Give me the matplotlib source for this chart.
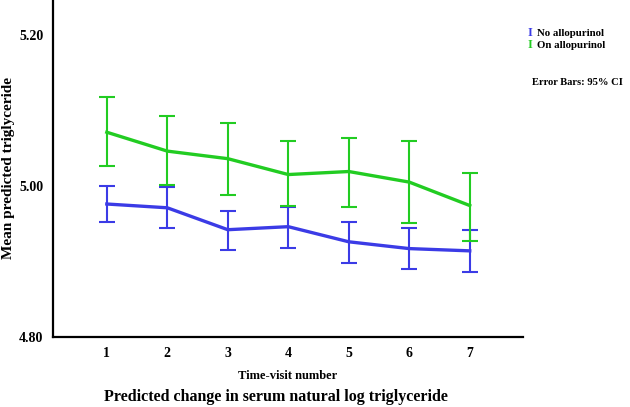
import numpy as np
import matplotlib
matplotlib.use("Agg")
import matplotlib.pyplot as plt

# time-visit numbers
visits = [1, 2, 3, 4, 5, 6, 7]

# No allopurinol: mean and 95% CI bounds
no_mean = [4.976, 4.971, 4.942, 4.946, 4.926, 4.917, 4.914]
no_low  = [4.952, 4.944, 4.915, 4.918, 4.898, 4.890, 4.886]
no_high = [5.000, 4.999, 4.967, 4.972, 4.952, 4.944, 4.942]

# On allopurinol
on_mean = [5.071, 5.046, 5.036, 5.015, 5.019, 5.005, 4.974]
on_low  = [5.026, 5.001, 4.988, 4.973, 4.972, 4.951, 4.927]
on_high = [5.117, 5.093, 5.083, 5.060, 5.064, 5.060, 5.017]

BLUE = "#3b3be6"
GREEN = "#22cc22"

plt.rcParams['font.family'] = ['Liberation Serif', 'DejaVu Serif']
plt.rcParams['font.weight'] = 'bold'

fig = plt.figure(figsize=(6.3, 4.07), dpi=100)
ax = fig.add_axes([0.0841, 0.172, 0.746, 0.828])

for mean, low, high, col in [(no_mean, no_low, no_high, BLUE),
                             (on_mean, on_low, on_high, GREEN)]:
    mean = np.array(mean)
    err = [mean - np.array(low), np.array(high) - mean]
    ax.plot(visits, mean, color=col, linewidth=2.4, zorder=3)
    ax.errorbar(visits, mean, yerr=err, fmt='none', ecolor=col,
                elinewidth=1.5, capsize=5.5, capthick=1.5, zorder=2)

ax.set_xlim(0.11, 7.88)
ax.set_ylim(4.80, 5.246)
ax.set_xticks(visits)
ax.set_yticks([4.80, 5.00, 5.20])
ax.set_yticklabels(["4.80", "5.00", "5.20"])
ax.tick_params(length=0, labelsize=10, pad=7)
for s in ['top', 'right']:
    ax.spines[s].set_visible(False)
for s in ['left', 'bottom']:
    ax.spines[s].set_linewidth(1.6)

fig.text(9 / 630, 1 - 168 / 407, "Mean predicted triglyceride", fontsize=11,
         rotation=90, ha='center', va='center')
fig.text(288 / 630, 1 - 376 / 407, "Time-visit number", fontsize=9, ha='center', va='center')
fig.text(276 / 630, 1 - 397 / 407, "Predicted change in serum natural log triglyceride",
         fontsize=11.5, ha='center', va='center')

# legend
fig.text(0.838, 0.918, "I", color=BLUE, fontsize=9, ha='left', va='center')
fig.text(0.852, 0.918, "No allopurinol", fontsize=7.8, ha='left', va='center')
fig.text(0.838, 0.889, "I", color=GREEN, fontsize=9, ha='left', va='center')
fig.text(0.852, 0.889, "On allopurinol", fontsize=7.8, ha='left', va='center')
fig.text(0.845, 0.7985, "Error Bars: 95% CI", fontsize=7.6, ha='left', va='center')

fig.savefig("out.png", dpi=100)
